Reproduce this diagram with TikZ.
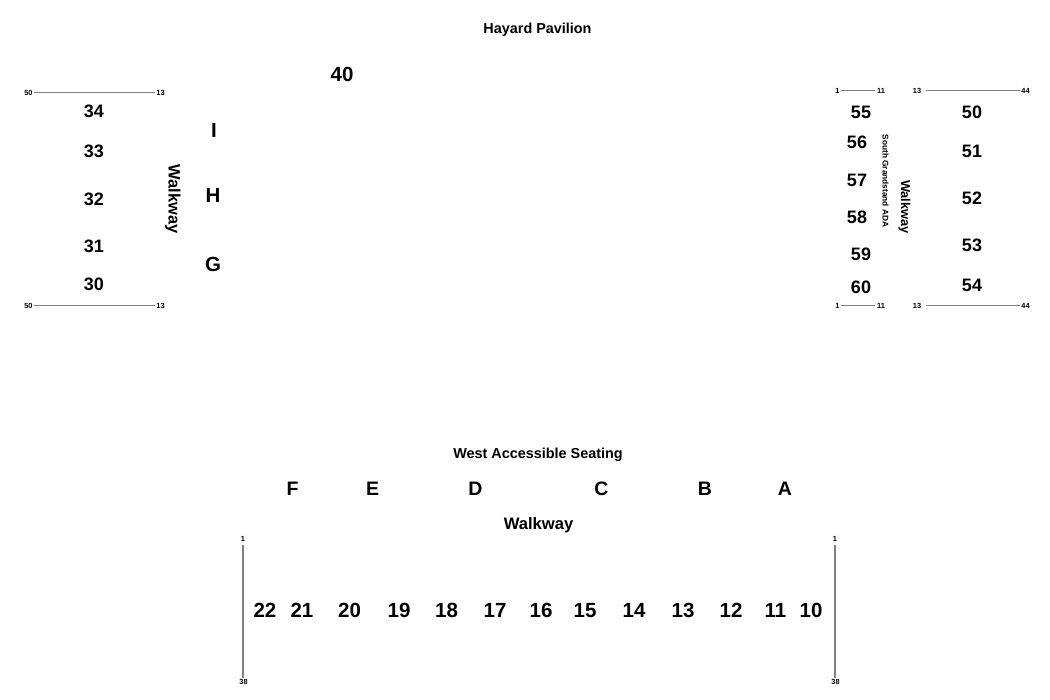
\documentclass[tikz,border=0pt]{standalone}
\usepackage{fontspec}
\setmainfont{Liberation Sans}
\tikzset{
 base/.style={inner sep=0pt,font=\bfseries,text=black},
 big/.style={base,font=\fontsize{20.5}{22}\selectfont\bfseries},
 num/.style={base,font=\fontsize{18}{20}\selectfont\bfseries,text height=12.6pt,text depth=0pt},
 numb/.style={base,font=\fontsize{20.5}{22}\selectfont\bfseries,text height=14.4pt,text depth=0pt},
 mid/.style={base,font=\fontsize{14.4}{17}\selectfont\bfseries},
 tiny/.style={base,font=\fontsize{7.4}{9}\selectfont\bfseries,inner sep=1.5pt},
 small/.style={base,font=\fontsize{8.3}{10}\selectfont\bfseries},
 rowline/.style={draw=black!50,line width=1.3pt},
}
\begin{document}
\begin{tikzpicture}[x=1pt,y=-1pt]
\useasboundingbox[fill=white] (0,0) rectangle (1050,700);
\node[mid] (title) at (537.5,29.5) {Hayard Pavilion};
\node[numb] (n40) at (342,74.5) {40};
% left block
\node[num] (n34) at (94,111.5) {34};
\node[num] (n33) at (94,151) {33};
\node[num] (n32) at (94,199) {32};
\node[num] (n31) at (94,246.5) {31};
\node[num] (n30) at (94,284.5) {30};
\node[big] (lI) at (214,130) {I};
\node[big] (lH) at (213,195.5) {H};
\node[big] (lG) at (213,264) {G};
\node[mid,rotate=-90,font=\fontsize{16.5}{18}\selectfont\bfseries] (wl) at (173,199) {Walkway};
\node[tiny] (a1) at (28.5,92.5) {50};
\node[tiny] (a2) at (160.5,92.5) {13};
\node[tiny] (a3) at (28.5,305.5) {50};
\node[tiny] (a4) at (160.5,305.5) {13};
\draw[rowline] (a1.east) -- (a2.west);
\draw[rowline] (a3.east) -- (a4.west);
% right block
\node[num] (n55) at (861,112) {55};
\node[num] (n56) at (857,142.5) {56};
\node[num] (n57) at (857,180) {57};
\node[num] (n58) at (857,217) {58};
\node[num] (n59) at (861,254.5) {59};
\node[num] (n60) at (861,287) {60};
\node[num] (n50) at (972,112) {50};
\node[num] (n51) at (972,151) {51};
\node[num] (n52) at (972,198.5) {52};
\node[num] (n53) at (972,245.5) {53};
\node[num] (n54) at (972,285) {54};
\node[small,rotate=-90] (sg) at (885.5,181) {South Grandstand ADA};
\node[mid,rotate=-90,font=\fontsize{12.8}{15}\selectfont\bfseries] (wr) at (904.5,207) {Walkway};
\node[tiny] (b1) at (837.5,90.5) {1};
\node[tiny] (b2) at (881,90.5) {11};
\node[tiny] (b3) at (917,90.5) {13};
\node[tiny] (b4) at (1025.5,90.5) {44};
\node[tiny] (b5) at (837.5,305.5) {1};
\node[tiny] (b6) at (881,305.5) {11};
\node[tiny] (b7) at (917,305.5) {13};
\node[tiny] (b8) at (1025.5,305.5) {44};
\draw[rowline] (b1.east) -- (b2.west);
\draw[rowline,shorten <=3pt] (b3.east) -- (b4.west);
\draw[rowline] (b5.east) -- (b6.west);
\draw[rowline,shorten <=3pt] (b7.east) -- (b8.west);
% bottom
\node[mid] (wa) at (538,455) {West Accessible Seating};
\node[big,font=\fontsize{19.5}{21}\selectfont\bfseries] (lF) at (292.5,488.5) {F};
\node[big,font=\fontsize{19.5}{21}\selectfont\bfseries] (lE) at (372.5,488.5) {E};
\node[big,font=\fontsize{19.5}{21}\selectfont\bfseries] (lD) at (475.5,488.5) {D};
\node[big,font=\fontsize{19.5}{21}\selectfont\bfseries] (lC) at (601.5,488.5) {C};
\node[big,font=\fontsize{19.5}{21}\selectfont\bfseries] (lB) at (705,488.5) {B};
\node[big,font=\fontsize{19.5}{21}\selectfont\bfseries] (lA) at (785,488.5) {A};
\node[mid,font=\fontsize{16.6}{18}\selectfont\bfseries] (wb) at (538.5,525.5) {Walkway};
\node[numb] (n22) at (265,610) {22};
\node[numb] (n21) at (302,610) {21};
\node[numb] (n20) at (349.5,610) {20};
\node[numb] (n19) at (399,610) {19};
\node[numb] (n18) at (446.5,610) {18};
\node[numb] (n17) at (495,610) {17};
\node[numb] (n16) at (541,610) {16};
\node[numb] (n15) at (585,610) {15};
\node[numb] (n14) at (634,610) {14};
\node[numb] (n13) at (683,610) {13};
\node[numb] (n12) at (731,610) {12};
\node[numb] (n11) at (775.5,610) {11};
\node[numb] (n10) at (811,610) {10};
\node[tiny] (c1) at (243,539) {1};
\node[tiny] (c2) at (243.5,682) {38};
\node[tiny] (c3) at (835,539) {1};
\node[tiny] (c4) at (835.5,682) {38};
\draw[rowline] (c1.south) ++(0,2) -- (c1.south |- c2.north);
\draw[rowline] (c3.south) ++(0,2) -- (c3.south |- c4.north);
\end{tikzpicture}
\end{document}
